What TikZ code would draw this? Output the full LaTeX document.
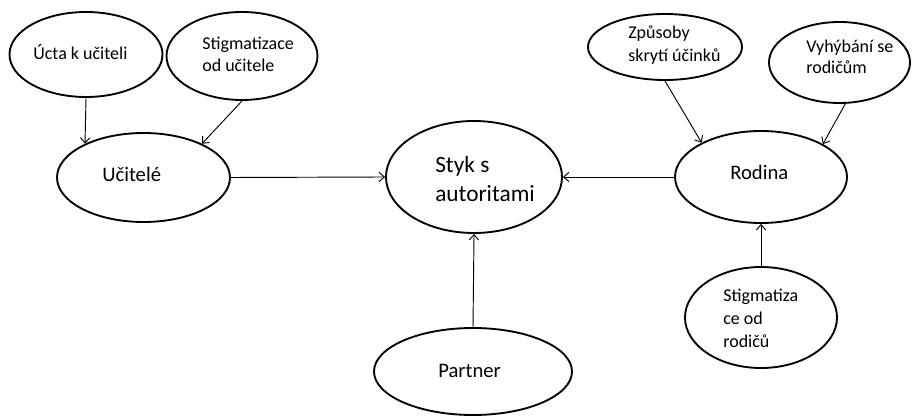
\documentclass[tikz,border=0pt]{standalone}
\usepackage{fontspec}
\setmainfont{Carlito}
\usetikzlibrary{shapes.geometric}
\usetikzlibrary{arrows.meta}

\tikzset{
  bubble/.style={draw, ellipse, line width=1.4pt, inner sep=0pt},
  link/.style={line width=0.7pt, -{Straight Barb[length=4pt,width=7pt]}},
  lbl/.style={anchor=base west, inner sep=0.75pt, align=left},
  lblsmall/.style={lbl, font=\fontsize{13.5}{16.5}\selectfont},
  lblmid/.style={lbl, font=\fontsize{15.5}{19}\selectfont},
  lblbig/.style={lbl, font=\fontsize{17.5}{21.75}\selectfont},
}

\begin{document}
\begin{tikzpicture}[x=0.75pt,y=0.75pt,yscale=-1,xscale=1]
\useasboundingbox (0,0) rectangle (912,416);

%Shape: Ellipse [ucta]
\node [bubble, minimum width=114.75pt, minimum height=63.75pt] (ucta) at (86,54.5) {};
%Shape: Ellipse [stigu]
\node [bubble, minimum width=113.25pt, minimum height=66pt] (stigu) at (242,56) {};
%Shape: Ellipse [ucitele]
\node [bubble, minimum width=129.75pt, minimum height=66.75pt] (ucitele) at (143.5,177.5) {};
%Shape: Ellipse [styk]
\node [bubble, minimum width=132pt, minimum height=84pt] (styk) at (474,177) {};
%Shape: Ellipse [rodina]
\node [bubble, minimum width=129pt, minimum height=69pt] (rodina) at (761,177) {};
%Shape: Ellipse [zpusoby]
\node [bubble, minimum width=115.5pt, minimum height=49.5pt] (zpusoby) at (665,47) {};
%Shape: Ellipse [vyhybani]
\node [bubble, minimum width=105.75pt, minimum height=60.75pt] (vyhybani) at (839.5,62.5) {};
%Shape: Ellipse [stigr]
\node [bubble, minimum width=114pt, minimum height=75.75pt] (stigr) at (761,317.5) {};
%Shape: Ellipse [partner]
\node [bubble, minimum width=148.5pt, minimum height=65.25pt] (partner) at (473,371.5) {};

% Text Node
\node [lblsmall] (ucta-t) at (32,60) {Úcta k učiteli};
% Text Node
\node [lblsmall] (stigu-t) at (201,72) {Stigmatizace\\od učitele};
% Text Node
\node [lblmid] (ucitele-t) at (101,182) {Učitelé};
% Text Node
\node [lblbig] (styk-t) at (434,202) {Styk s\\autoritami};
% Text Node
\node [lblmid] (rodina-t) at (729,180) {Rodina};
% Text Node
\node [lblsmall, font=\fontsize{13.5}{17.25}\selectfont] (zpusoby-t) at (627,62) {Způsoby\\skrytí účinků};
% Text Node
\node [lblsmall, font=\fontsize{13.5}{15.75}\selectfont] (vyhybani-t) at (805,74) {Vyhýbání se\\rodičům};
% Text Node
\node [lblsmall, font=\fontsize{13.5}{16.9}\selectfont] (stigr-t) at (722,347) {Stigmatiza\\ce od\\rodičů};
% Text Node
\node [lblmid] (partner-t) at (437,377) {Partner};

%Straight Lines
\draw [link] (ucta.south) -- (ucitele.150);
%Straight Lines
\draw [link] (stigu.south) -- (ucitele.30);
%Straight Lines
\draw [link] (ucitele.east) -- (styk.west);
%Straight Lines
\draw [link] (rodina.west) -- (styk.east);
%Straight Lines
\draw [link] (partner.north) -- (styk.south);
%Straight Lines
\draw [link] (zpusoby.south) -- (rodina.150);
%Straight Lines
\draw [link] (vyhybani.-82) -- (rodina.28);
%Straight Lines
\draw [link] (stigr.north) -- (rodina.south);
\end{tikzpicture}
\end{document}
